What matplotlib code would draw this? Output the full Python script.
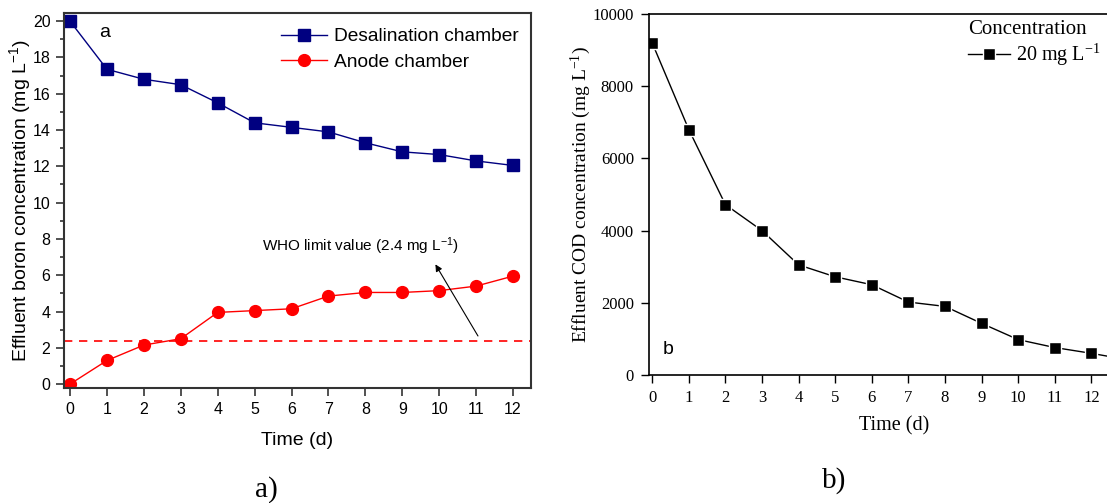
import matplotlib
matplotlib.use("Agg")
import matplotlib.pyplot as plt
from matplotlib.ticker import MultipleLocator

days = [0, 1, 2, 3, 4, 5, 6, 7, 8, 9, 10, 11, 12]
desal = [20.0, 17.35, 16.8, 16.5, 15.5, 14.4, 14.15, 13.9, 13.3, 12.8, 12.65, 12.3, 12.05]
anode = [0.0, 1.3, 2.15, 2.5, 3.95, 4.05, 4.15, 4.85, 5.05, 5.05, 5.15, 5.4, 5.95]
who_limit = 2.4

cod_days = [0, 1, 2, 3, 4, 5, 6, 7, 8, 9, 10, 11, 12, 13]
cod = [9200, 6800, 4720, 4000, 3050, 2720, 2500, 2020, 1900, 1430, 980, 760, 600, 420]

fig = plt.figure(figsize=(11.07, 5.03), dpi=100)

sans = "Liberation Sans"
serif = "Liberation Serif"
spc = "#333333"
unit = r"mg L$\mathregular{^{-1}}$"

# ---------- panel a ----------
ax1 = fig.add_axes([0.0581, 0.2292, 0.4213, 0.7456])
ax1.plot(days, desal, color="#000080", marker="s", markersize=8, lw=1,
         label="Desalination chamber")
ax1.plot(days, anode, color="#ff0000", marker="o", markersize=8.5, lw=1,
         label="Anode chamber")
ax1.axhline(who_limit, color="#ff0000", ls=(0, (5, 4)), lw=1.2)
ax1.annotate("", xy=(9.86, 6.73), xytext=(11.09, 2.52),
             arrowprops=dict(arrowstyle="-|>", color="black", lw=0.8,
                             mutation_scale=10))
ax1.text(7.86, 7.58, "WHO limit value (2.4 " + unit + ")", ha="center", va="center",
         fontsize=11, family=sans)
ax1.text(0.78, 19.35, "a", fontsize=14, family=sans, va="center")
ax1.set_xlim(-0.155, 12.48)
ax1.set_ylim(-0.2, 20.47)
ax1.set_xticks(days)
ax1.yaxis.set_major_locator(MultipleLocator(2))
ax1.yaxis.set_minor_locator(MultipleLocator(1))
ax1.tick_params(axis="both", which="major", direction="out", length=6, width=1.2,
                color=spc, labelsize=11.5, pad=4)
ax1.tick_params(axis="y", which="minor", direction="out", length=3, width=1.2, color=spc)
for lab in ax1.get_xticklabels() + ax1.get_yticklabels():
    lab.set_family(sans)
for s in ax1.spines.values():
    s.set_color(spc)
    s.set_linewidth(1.5)
ax1.set_xlabel("Time (d)", fontsize=14, family=sans, labelpad=11)
ax1.set_ylabel("Effluent boron concentration (" + unit + ")", fontsize=14, family=sans,
               labelpad=0)
leg = ax1.legend(loc="upper right", bbox_to_anchor=(519 / 1107, 1 - 28 / 503),
                 bbox_transform=fig.transFigure, frameon=False,
                 prop={"family": sans, "size": 13.8}, handlelength=2.4,
                 borderaxespad=0, borderpad=0, labelspacing=0.42, handletextpad=0.36)

# ---------- panel b ----------
ax2 = fig.add_axes([0.5865, 0.2545, 0.4424, 0.7177])
ax2.plot(cod_days, cod, color="black", marker="s", markersize=8.5, lw=1,
         mec="white", mew=1.0, label="20 " + unit)
ax2.set_xlim(-0.08, 13.3)
ax2.set_ylim(0, 10000)
ax2.set_xticks(days)
ax2.set_yticks([0, 2000, 4000, 6000, 8000, 10000])
ax2.tick_params(axis="both", direction="out", length=6, width=1, labelsize=12, pad=5)
for lab in ax2.get_xticklabels() + ax2.get_yticklabels():
    lab.set_family(serif)
for s in ax2.spines.values():
    s.set_linewidth(1.2)
ax2.text(0.3, 700, "b", fontsize=14, family=sans, va="center")
ax2.set_xlabel("Time (d)", fontsize=14.5, family=serif, labelpad=7)
ax2.set_ylabel("Effluent COD concentration (" + unit + ")", fontsize=14, family=serif,
               labelpad=0)
fig.text(968 / 1107, 1 - 29 / 503, "Concentration", fontsize=15, family=serif,
         ha="left", va="center")
h, l = ax2.get_legend_handles_labels()
leg2 = fig.legend(h, l, loc="center left", bbox_to_anchor=(968 / 1107, 1 - 55 / 503),
                  frameon=False, prop={"family": serif, "size": 14.5},
                  handlelength=2.1, handletextpad=0.3, borderaxespad=0, borderpad=0)

fig.text(266 / 1107, 1 - 490 / 503, "a)", fontsize=21, family=serif, ha="center",
         va="center")
fig.text(834 / 1107, 1 - 481 / 503, "b)", fontsize=21, family=serif, ha="center",
         va="center")

fig.savefig("out.png", dpi=100)
